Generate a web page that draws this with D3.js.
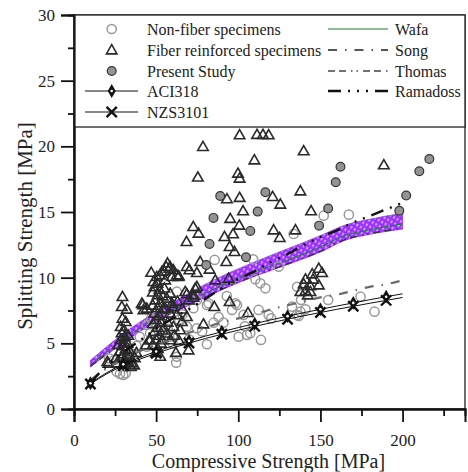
<!DOCTYPE html>
<html><head><meta charset="utf-8">
<script src="https://cdn.jsdelivr.net/npm/d3@7"></script>
<style>body{margin:0;background:#fff}svg{display:block}text{font-family:"Liberation Serif","Times New Roman",serif;fill:#222}</style>
</head><body><svg id="c" width="468" height="472"></svg>
<script>
// ---------- data ----------
const xTicks = [0, 50, 100, 150, 200];
const xMinor = [25, 75, 125, 175, 225];
const yTicks = [0, 5, 10, 15, 20, 25, 30];
const yMinor = [2.5, 7.5, 12.5, 17.5, 22.5, 27.5];

const nonFiber = [[85.6,11.35],[62.6,8.93],[109,11.4],[110.4,9.88],[113.4,9.57],[116.5,9.19],[81.9,8.05],[98.2,8.05],[96.2,7.54],[72.7,7.67],[74.8,8.3],[103.2,7.16],[152,14.72],[167.3,14.8],[133.7,13.33],[124.6,10.84],[135.8,9.31],[138.2,8.3],[154.7,8.3],[174.4,8.55],[182.9,7.41],[132.7,7.79],[137.8,7.41],[140.9,7.59],[135.8,7.16],[118.5,7.16],[136.8,7.08],[113.8,5.26],[107.3,5.77],[91,6.57],[80.9,4.93],[100.2,5.5],[105.3,5.64],[112.4,7.54],[62.6,3.98],[62.2,3.53],[26,2.84],[30,2.59],[28,2.67],[31.5,2.72],[46.3,5.77],[50.4,6.27],[54.5,5.89],[44.3,4.74],[68.7,6.27],[74.8,6.15],[85,6.57],[44.3,6.4],[24.4,3.73],[21.3,3.86],[61,5.5],[47,6.9],[52,6.6],[57,6.1],[40,5.5],[66,7.2],[70,5.3],[78,5.9],[88,7.0],[60,5.0],[35,4.2],[33,3.5],[38,4.8],[55,7.5],[64,6.8],[58,5.5],[99.2,7.92],[80.9,7.92],[104,6.3],[93,8.6],[120,6.9]];

const fiber = [[100.8,20.87],[111.4,20.9],[115,20.9],[118.5,20.87],[78.5,19.98],[109.8,18.96],[75.4,17.65],[99.8,17.95],[100.8,17.57],[93.1,16.0],[100.8,16.1],[102.9,15.08],[95.1,14.5],[100.6,13.99],[72.6,13.88],[75.8,13.38],[91.6,13.12],[96.8,13.33],[68.5,12.74],[94.7,12.36],[97.7,11.98],[76.8,11.22],[92.7,11.22],[68.7,10.84],[70.3,10.59],[74.8,10.38],[82.5,10.64],[63.8,10.13],[41.9,7.92],[94.7,8.17],[85.4,7.79],[105.9,7.33],
[139.8,19.65],[188.6,18.58],[137.8,16.6],[120.9,16.17],[125.6,15.59],[144.3,15.08],[121.5,13.63],[125.2,13.05],[134.8,13.63],
[149,10.71],[151,10.38],[145,10.28],[140.9,9.88],[145.5,9.88],[139.8,9.52],[143.9,9.37],[149,9.44],[137.8,8.93],[140.9,9.0],[143.9,8.93],[142.3,8.68],
[29.5,8.55],[29.1,7.79],[32.1,7.59],[29.5,6.9],[31.5,6.65],[28.4,6.27],[30.5,6.02],[29,5.8],[31,5.5],[33,5.6],[28.5,5.3],[30.5,5.1],[32.5,5.0],[29.5,4.8],[31.5,4.6],[33.5,4.5],[28,4.4],[30,4.2],[32,4.1],[34,4.0],[29,3.9],[31,3.7],[33,3.6],[35,3.5],[30,3.4],[34.6,3.22],[36.6,3.35],[25.4,3.86],[20.3,3.6],[20.9,3.48],[27,4.9],[26,3.5],[37,3.9],[38,4.3],
[56.9,11.1],[56.1,10.84],[58.1,10.71],[53.5,10.46],[50.4,10.08],[52.4,10.2],[48.4,9.7],[50.8,9.57],[55.5,9.82],[58.5,10.84],[60.5,10.59],[62.6,10.2],[59.6,10.08],[63.6,10.08],[49,9.3],[52,9.1],[55,9.2],[48,8.9],[51,8.7],[54,8.6],[49.5,8.3],[52.5,8.1],[48,7.9],[51,7.7],[54,7.6],[49,7.3],[52,7.1],[50,6.8],[53,6.6],[48,6.5],[51,6.2],[54,6.0],[49,5.9],[52,5.6],[50,5.3],[53,5.0],[48,4.9],[51,4.6],[50,4.3],[52.5,4.0],[46.3,5.26],[45.7,5.26],[43.7,4.87],[47,10.4],[55,10.5],
[58.5,8.81],[56.5,8.43],[59.6,8.05],[55.5,7.67],[58.5,7.29],[62.6,7.16],[65.7,6.65],[68.7,7.03],[60.5,6.27],[64.6,6.02],[56.5,5.77],[53.5,5.26],[58.5,5.26],[68.7,8.76],[73.8,9.19],[72.7,8.5],[74.8,9.31],[72.7,8.68],[69.7,8.3],[67.7,8.93],[86,9.82],[94.1,9.95],[41.3,8.05],[42.3,7.54],[44.3,7.67],[62,4.3],[69.7,4.49],[78.8,6.47],[60,7.8],[63,8.2],[66,7.6],[61,5.6],[57,6.6],[64,5.2]];

const present = [[80.5,10.97],[82.5,12.57],[84.9,14.55],[89,16.22],[104.7,11.55],[107.3,13.56],[111.8,15.03],[116.5,16.5],[149.2,13.96],[154.7,15.26],[159.3,17.27],[162.2,18.45],[198,15.1],[202.2,16.25],[210.2,18.1],[216.3,19.04]];

const curveX   = [10,20,30,40,50,60,70,80,90,100,110,120,130,140,150,160,170,180,190,200];
const aci      = [1.96,2.77,3.40,3.92,4.38,4.80,5.19,5.55,5.88,6.20,6.50,6.79,7.07,7.34,7.59,7.84,8.08,8.32,8.55,8.77];
const nzs      = [1.90,2.68,3.29,3.79,4.24,4.65,5.02,5.37,5.69,6.00,6.29,6.57,6.84,7.10,7.35,7.59,7.82,8.05,8.27,8.49];
const song     = [2.2,3.1,3.8,4.4,4.9,5.3,5.8,6.2,6.6,6.9,7.2,7.6,7.9,8.2,8.5,8.7,9.0,9.3,9.5,9.8];
const ramadoss = [2.0,3.3,4.3,5.2,6.1,6.9,7.6,8.4,9.2,9.9,10.5,11.2,11.8,12.5,13.1,13.6,14.2,14.7,15.2,15.7];
const markerX  = [10,30,50,70,90,110,130,150,170,190];
const aciMarks = [1.96,3.40,4.38,5.19,5.88,6.50,7.07,7.59,8.08,8.55];
const nzsMarks = [1.90,3.29,4.24,5.02,5.69,6.29,6.84,7.35,7.82,8.27];

const bandX    = [10,20,30,40,50,65,80,95,110,130,150,165,180,200];
const bandLow  = [3.2,4.15,5.0,5.9,6.65,7.6,8.5,9.35,10.1,11.0,11.95,12.85,13.3,13.7];
const bandHigh = [3.7,4.75,5.75,6.6,7.4,8.45,9.5,10.4,11.2,12.2,13.2,14.0,14.45,14.9];
const wafa     = [3.35,4.35,5.25,6.15,6.9,7.9,8.8,9.7,10.45,11.35,12.35,13.2,13.65,14.1];
const thomas   = [3.25,4.2,5.05,5.95,6.7,7.65,8.55,9.4,10.15,11.05,12.0,12.9,13.35,13.75];

// ---------- chart ----------
const svg = d3.select("#c");
const L = 74, R = 465, T = 15, B = 409;
const x = d3.scaleLinear().domain([0, 238]).range([L, R]);
const y = d3.scaleLinear().domain([0, 30]).range([B, T]);

const defs = svg.append("defs");
const pat = defs.append("pattern").attr("id","hatch").attr("width",4).attr("height",5)
  .attr("patternUnits","userSpaceOnUse").attr("patternTransform","rotate(30)");
pat.append("rect").attr("width",4).attr("height",5).attr("fill","#9b30ff");
pat.append("line").attr("x1",2).attr("y1",0).attr("x2",2).attr("y2",5)
  .attr("stroke","#fff").attr("stroke-width",1.1).attr("stroke-dasharray","2.5,2.5");

// band
const bandData = bandX.map((v,i)=>({x:v,lo:bandLow[i],hi:bandHigh[i]}));
svg.append("path").datum(bandData)
  .attr("d", d3.area().x(d=>x(d.x)).y0(d=>y(d.lo)).y1(d=>y(d.hi)).curve(d3.curveMonotoneX))
  .attr("fill","url(#hatch)").attr("stroke","#9b30ff").attr("stroke-width",0.8);

// band lines
const lineB = d3.line().x((d)=>x(d[0])).y(d=>y(d[1])).curve(d3.curveMonotoneX);
svg.append("path").datum(bandX.map((v,i)=>[v,wafa[i]])).attr("d",lineB)
  .attr("fill","none").attr("stroke","#1f7a33").attr("stroke-width",1);
svg.append("path").datum(bandX.map((v,i)=>[v,thomas[i]])).attr("d",lineB)
  .attr("fill","none").attr("stroke","#333").attr("stroke-width",1.4).attr("stroke-dasharray","7,4,7,5,1.5,4,1.5,5");

// scatter
const g = svg.append("g");
g.selectAll(".nf").data(nonFiber).join("circle")
  .attr("cx",d=>x(d[0])).attr("cy",d=>y(d[1])).attr("r",4.6)
  .attr("fill","none").attr("stroke","#999").attr("stroke-width",1.5);
const tri = d3.symbol().type(d3.symbolTriangle).size(48);
g.selectAll(".fb").data(fiber).join("path")
  .attr("d",tri).attr("transform",d=>`translate(${x(d[0])},${y(d[1])+0.8})`)
  .attr("fill","none").attr("stroke","#2a2a2a").attr("stroke-width",1.6);
g.selectAll(".ps").data(present).join("circle")
  .attr("cx",d=>x(d[0])).attr("cy",d=>y(d[1])).attr("r",4.4)
  .attr("fill","#939393").attr("stroke","#333").attr("stroke-width",1.2);

// curves
const mk = arr => curveX.map((v,i)=>[v,arr[i]]);
svg.append("path").datum(mk(song)).attr("d",lineB).attr("fill","none")
  .attr("stroke","#6a6a6a").attr("stroke-width",2.2).attr("stroke-dasharray","9,8,1.5,8");
svg.append("path").datum(mk(ramadoss)).attr("d",lineB).attr("fill","none")
  .attr("stroke","#111").attr("stroke-width",2.4).attr("stroke-dasharray","13,7,2,7,2,7,2,7");
svg.append("path").datum(mk(aci)).attr("d",lineB).attr("fill","none").attr("stroke","#111").attr("stroke-width",1);
svg.append("path").datum(mk(nzs)).attr("d",lineB).attr("fill","none").attr("stroke","#111").attr("stroke-width",1);

const diamond = d3.symbol().type(d3.symbolDiamond).size(55);
const cross = d3.symbol().type(d3.symbolX).size(70);
function drawX(sel, px, py){
  sel.append("path").attr("d",cross).attr("transform",`translate(${px},${py})`)
    .attr("fill","none").attr("stroke","#111").attr("stroke-width",2.4);
}
function drawD(sel, px, py){
  sel.append("path").attr("d",diamond).attr("transform",`translate(${px},${py})`).attr("fill","#111");
  sel.append("circle").attr("cx",px).attr("cy",py).attr("r",1.3).attr("fill","#fff");
}
markerX.forEach((v,i)=>{ drawX(svg, x(v), y(nzsMarks[i])); drawD(svg, x(v), y(aciMarks[i])); });

// frame
svg.append("rect").attr("x",L).attr("y",T).attr("width",R-L).attr("height",B-T)
  .attr("fill","none").attr("stroke","#222").attr("stroke-width",1.3);

// axes
const ax = svg.append("g").attr("transform",`translate(0,${B})`)
  .call(d3.axisBottom(x).tickValues(xTicks).tickSize(13).tickPadding(12).tickFormat(d3.format("d")));
const axm = svg.append("g").attr("transform",`translate(0,${B})`)
  .call(d3.axisBottom(x).tickValues(xMinor).tickSize(7).tickFormat(""));
const ay = svg.append("g").attr("transform",`translate(${L},0)`)
  .call(d3.axisLeft(y).tickValues(yTicks).tickSize(13).tickPadding(6).tickFormat(d3.format("d")));
const aym = svg.append("g").attr("transform",`translate(${L},0)`)
  .call(d3.axisLeft(y).tickValues(yMinor).tickSize(6).tickFormat(""));
[ax,axm,ay,aym].forEach(a=>{
  a.select(".domain").attr("stroke","#111").attr("stroke-width",2);
  a.selectAll(".tick line").attr("stroke","#111").attr("stroke-width",1.8);
  a.selectAll("text").attr("font-family",'"Liberation Serif",serif').attr("font-size",17).attr("fill","#222");
});

svg.append("text").attr("x",(L+R)/2-1).attr("y",468).attr("text-anchor","middle")
  .attr("font-size",20).text("Compressive Strength [MPa]");
svg.append("text").attr("transform","translate(32,226) rotate(-90)").attr("text-anchor","middle")
  .attr("font-size",21).text("Splitting Strength [MPa]");

// legend
const lg = svg.append("g");
lg.append("rect").attr("x",75).attr("y",T).attr("width",R-75).attr("height",112)
  .attr("fill","#fff").attr("stroke","#222").attr("stroke-width",1.3);
const rows = [29,50,71,91,112];
const sx = 111.7, tx = 147;
lg.append("circle").attr("cx",sx).attr("cy",rows[0]).attr("r",4.6).attr("fill","none").attr("stroke","#999").attr("stroke-width",1.5);
lg.append("path").attr("d",tri).attr("transform",`translate(${sx},${rows[1]+0.8})`).attr("fill","none").attr("stroke","#2a2a2a").attr("stroke-width",1.6);
lg.append("circle").attr("cx",sx).attr("cy",rows[2]).attr("r",4.4).attr("fill","#939393").attr("stroke","#333").attr("stroke-width",1.2);
lg.append("line").attr("x1",85).attr("x2",138).attr("y1",rows[3]).attr("y2",rows[3]).attr("stroke","#111");
drawD(lg, sx, rows[3]);
lg.append("line").attr("x1",85).attr("x2",138).attr("y1",rows[4]).attr("y2",rows[4]).attr("stroke","#111");
drawX(lg, sx, rows[4]);
const leftLabels = ["Non-fiber specimens","Fiber reinforced specimens","Present Study","ACI318","NZS3101"];
leftLabels.forEach((t,i)=>lg.append("text").attr("x",tx).attr("y",rows[i]+5.5).attr("font-size",16).text(t));

const rightLabels = ["Wafa","Song","Thomas","Ramadoss"];
const rightStyles = [
  {c:"#1f7a33",w:1,d:null},
  {c:"#555",w:2,d:"9,8,1.5,8"},
  {c:"#444",w:1.3,d:"7,4,7,5,1.5,4,1.5,5"},
  {c:"#111",w:2.4,d:"13,7,2,7,2,7,2,7"}];
rightLabels.forEach((t,i)=>{
  const s = rightStyles[i];
  const ln = lg.append("line").attr("x1",328).attr("x2",388).attr("y1",rows[i]).attr("y2",rows[i])
    .attr("stroke",s.c).attr("stroke-width",s.w);
  if (s.d) ln.attr("stroke-dasharray",s.d);
  lg.append("text").attr("x",395).attr("y",rows[i]+5.5).attr("font-size",16).text(t);
});
</script></body></html>
